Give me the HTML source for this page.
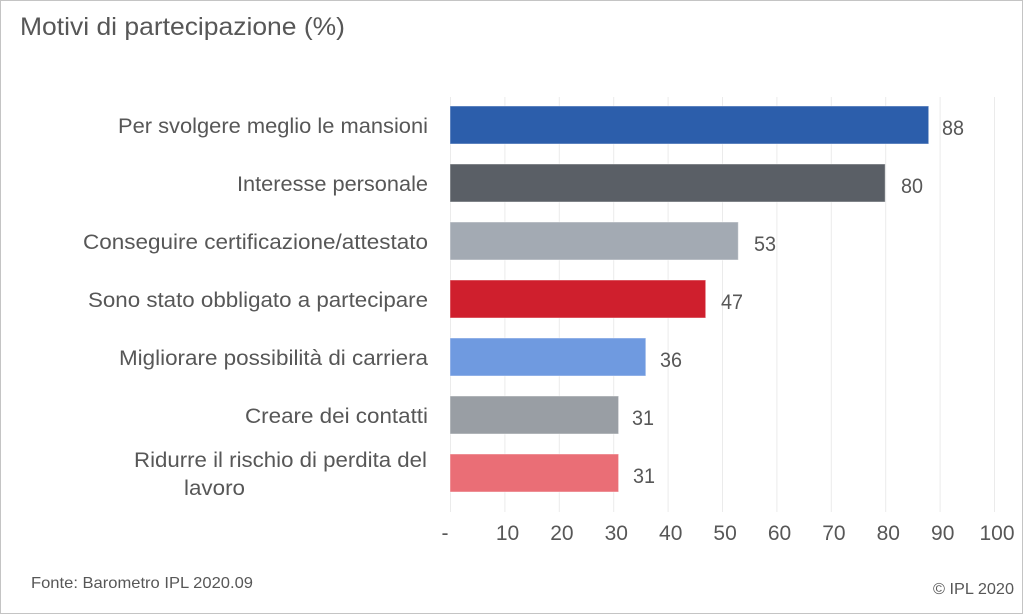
<!DOCTYPE html>
<html>
<head>
<meta charset="utf-8">
<style>
  html, body { margin:0; padding:0; background:#fff; }
  svg { display:block; }
  text { font-family: "Liberation Sans", "DejaVu Sans", sans-serif; fill:#575757; }
</style>
</head>
<body>
<svg width="1024" height="615" viewBox="0 0 1024 615" xmlns="http://www.w3.org/2000/svg">
  <rect x="0.5" y="0.5" width="1022" height="613" fill="#fff" stroke="#c4c4c4" stroke-width="1"/>

  <!-- Title -->
  <text x="20" y="35" font-size="25" textLength="325" lengthAdjust="spacingAndGlyphs">Motivi di partecipazione (%)</text>

  <!-- gridlines -->
  <g stroke="#ebebeb" stroke-width="1">
    <line x1="450.5" y1="97" x2="450.5" y2="512"/>
    <line x1="504.9" y1="97" x2="504.9" y2="512"/>
    <line x1="559.3" y1="97" x2="559.3" y2="512"/>
    <line x1="613.7" y1="97" x2="613.7" y2="512"/>
    <line x1="668.1" y1="97" x2="668.1" y2="512"/>
    <line x1="722.5" y1="97" x2="722.5" y2="512"/>
    <line x1="776.9" y1="97" x2="776.9" y2="512"/>
    <line x1="831.3" y1="97" x2="831.3" y2="512"/>
    <line x1="885.7" y1="97" x2="885.7" y2="512"/>
    <line x1="940.1" y1="97" x2="940.1" y2="512"/>
    <line x1="994.5" y1="97" x2="994.5" y2="512"/>
  </g>

  <!-- bars -->
  <g stroke="#ffffff" stroke-opacity="0.45" stroke-width="1">
    <rect x="450" y="106" width="478.7" height="38" fill="#2c5eab"/>
    <rect x="450" y="164" width="435.2" height="38" fill="#5a5f66"/>
    <rect x="450" y="222" width="288.3" height="38" fill="#a3aab3"/>
    <rect x="450" y="280" width="255.7" height="38" fill="#cf1f2d"/>
    <rect x="450" y="338" width="195.8" height="38" fill="#6f9ae0"/>
    <rect x="450" y="396" width="168.6" height="38" fill="#999ea4"/>
    <rect x="450" y="454" width="168.6" height="38" fill="#ea6e76"/>
  </g>

  <!-- category labels -->
  <g font-size="21" text-anchor="end">
    <text x="428" y="133" textLength="310" lengthAdjust="spacingAndGlyphs">Per svolgere meglio le mansioni</text>
    <text x="428" y="191" textLength="191" lengthAdjust="spacingAndGlyphs">Interesse personale</text>
    <text x="428" y="249" textLength="345" lengthAdjust="spacingAndGlyphs">Conseguire certificazione/attestato</text>
    <text x="428" y="307" textLength="340" lengthAdjust="spacingAndGlyphs">Sono stato obbligato a partecipare</text>
    <text x="428" y="365" textLength="309" lengthAdjust="spacingAndGlyphs">Migliorare possibilità di carriera</text>
    <text x="428" y="423" textLength="183" lengthAdjust="spacingAndGlyphs">Creare dei contatti</text>
    <text x="427" y="467" textLength="293" lengthAdjust="spacingAndGlyphs">Ridurre il rischio di perdita del</text>
  </g>
  <text x="184" y="495" font-size="21" textLength="61" lengthAdjust="spacingAndGlyphs">lavoro</text>

  <!-- value labels -->
  <g font-size="21">
    <text x="942" y="135" textLength="22" lengthAdjust="spacingAndGlyphs">88</text>
    <text x="901" y="193" textLength="22" lengthAdjust="spacingAndGlyphs">80</text>
    <text x="754" y="251" textLength="22" lengthAdjust="spacingAndGlyphs">53</text>
    <text x="721" y="309" textLength="22" lengthAdjust="spacingAndGlyphs">47</text>
    <text x="660" y="367" textLength="22" lengthAdjust="spacingAndGlyphs">36</text>
    <text x="632" y="425" textLength="22" lengthAdjust="spacingAndGlyphs">31</text>
    <text x="633" y="483" textLength="22" lengthAdjust="spacingAndGlyphs">31</text>
  </g>

  <!-- x tick labels -->
  <g font-size="21" text-anchor="middle">
    <text x="445" y="540">-</text>
    <text x="507.5" y="540">10</text>
    <text x="561.9" y="540">20</text>
    <text x="616.3" y="540">30</text>
    <text x="670.7" y="540">40</text>
    <text x="725.1" y="540">50</text>
    <text x="779.5" y="540">60</text>
    <text x="833.9" y="540">70</text>
    <text x="888.3" y="540">80</text>
    <text x="942.7" y="540">90</text>
    <text x="997" y="540">100</text>
  </g>

  <!-- footer -->
  <text x="31" y="588" font-size="16" textLength="222" lengthAdjust="spacingAndGlyphs">Fonte: Barometro IPL 2020.09</text>
  <text x="933" y="594" font-size="16" textLength="81" lengthAdjust="spacingAndGlyphs">© IPL 2020</text>
</svg>
</body>
</html>
